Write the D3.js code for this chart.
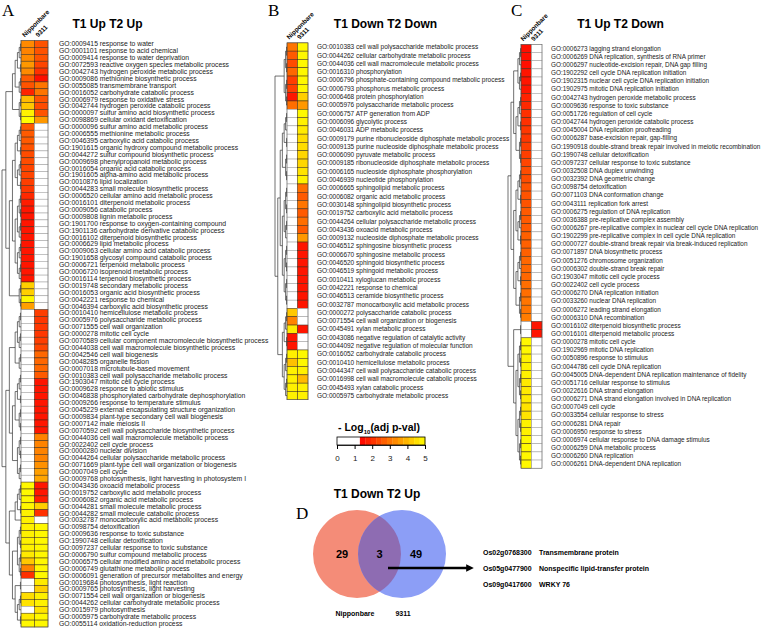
<!DOCTYPE html>
<html><head><meta charset="utf-8">
<script src="https://cdn.jsdelivr.net/npm/d3@7"></script>
<style>body{margin:0;background:#fff}svg{display:block}</style>
</head><body><svg id="c" width="777" height="631"></svg>
<script>
// ---------------- DATA ----------------
const samples = ["Nipponbare", "9311"];

const termsA = ["GO:0009415 response to water","GO:0001101 response to acid chemical","GO:0009414 response to water deprivation","GO:0072593 reactive oxygen species metabolic process","GO:0042743 hydrogen peroxide metabolic process","GO:0009086 methionine biosynthetic process","GO:0055085 transmembrane transport","GO:0016052 carbohydrate catabolic process","GO:0006979 response to oxidative stress","GO:0042744 hydrogen peroxide catabolic process","GO:0000097 sulfur amino acid biosynthetic process","GO:0098869 cellular oxidant detoxification","GO:0000096 sulfur amino acid metabolic process","GO:0006555 methionine metabolic process","GO:0046395 carboxylic acid catabolic process","GO:1901615 organic hydroxy compound metabolic process","GO:0044272 sulfur compound biosynthetic process","GO:0009698 phenylpropanoid metabolic process","GO:0016054 organic acid catabolic process","GO:1901605 alpha-amino acid metabolic process","GO:0010876 lipid localization","GO:0044283 small molecule biosynthetic process","GO:0006520 cellular amino acid metabolic process","GO:0016101 diterpenoid metabolic process","GO:0009056 catabolic process","GO:0009808 lignin metabolic process","GO:1901700 response to oxygen-containing compound","GO:1901136 carbohydrate derivative catabolic process","GO:0016102 diterpenoid biosynthetic process","GO:0006629 lipid metabolic process","GO:0009063 cellular amino acid catabolic process","GO:1901658 glycosyl compound catabolic process","GO:0006721 terpenoid metabolic process","GO:0006720 isoprenoid metabolic process","GO:0016114 terpenoid biosynthetic process","GO:0019748 secondary metabolic process","GO:0016053 organic acid biosynthetic process","GO:0042221 response to chemical","GO:0046394 carboxylic acid biosynthetic process","GO:0010410 hemicellulose metabolic process","GO:0005976 polysaccharide metabolic process","GO:0071555 cell wall organization","GO:0000278 mitotic cell cycle","GO:0070589 cellular component macromolecule biosynthetic process","GO:0044038 cell wall macromolecule biosynthetic process","GO:0042546 cell wall biogenesis","GO:0048285 organelle fission","GO:0007018 microtubule-based movement","GO:0010383 cell wall polysaccharide metabolic process","GO:1903047 mitotic cell cycle process","GO:0009628 response to abiotic stimulus","GO:0046838 phosphorylated carbohydrate dephosphorylation","GO:0009266 response to temperature stimulus","GO:0045229 external encapsulating structure organization","GO:0009834 plant-type secondary cell wall biogenesis","GO:0007142 male meiosis II","GO:0070592 cell wall polysaccharide biosynthetic process","GO:0044036 cell wall macromolecule metabolic process","GO:0022402 cell cycle process","GO:0000280 nuclear division","GO:0044264 cellular polysaccharide metabolic process","GO:0071669 plant-type cell wall organization or biogenesis","GO:0007049 cell cycle","GO:0009768 photosynthesis, light harvesting in photosystem I","GO:0043436 oxoacid metabolic process","GO:0019752 carboxylic acid metabolic process","GO:0006082 organic acid metabolic process","GO:0044281 small molecule metabolic process","GO:0044282 small molecule catabolic process","GO:0032787 monocarboxylic acid metabolic process","GO:0098754 detoxification","GO:0009636 response to toxic substance","GO:1990748 cellular detoxification","GO:0097237 cellular response to toxic substance","GO:0006790 sulfur compound metabolic process","GO:0006575 cellular modified amino acid metabolic process","GO:0006749 glutathione metabolic process","GO:0006091 generation of precursor metabolites and energy","GO:0019684 photosynthesis, light reaction","GO:0009765 photosynthesis, light harvesting","GO:0071554 cell wall organization or biogenesis","GO:0044262 cellular carbohydrate metabolic process","GO:0015979 photosynthesis","GO:0005975 carbohydrate metabolic process","GO:0055114 oxidation-reduction process"];
const nipA = [3.3,3.2,3.3,3.5,3.3,2.6,2.5,1.8,4.0,4.2,4.8,5.0, 2.6,2.6,2.6,2.5, 2.4,2.4,2.3,2.3,2.2,2.1, 1.9,1.7,1.6,1.6,1.6,1.6,1.6,1.6,1.6,1.6,1.6,1.6,1.6, 4.3,4.3,4.9,3.6, 0,0,0,0,0,0,0,0,0,0,0,0,0,0,0,0,0,0,0,0,0,0,0,0,0, 4.9,4.9,4.9,4.9,4.8, 4.8, 4.8,4.8,4.8,4.8,4.7, 4.2,3.2,2.0, 0,0, 4.5,4.6,0,4.7,4.9];
const rice9311A = [2.5,2.5,2.5,2.3,2.0,1.5,3.0,3.0,2.5,2.4,2.5,3.5, 0,0,0,0,0,0,0,0,0,0,0,0,0,0,0,0,0,0,0,0,0,0,0,0,0,0,0, 2.2,2.1,2.1,2.1,2.2,2.3, 2.8,2.8,2.8, 2.6,1.6,1.6,1.6,1.6,1.6,1.6,1.6,1.6, 3.2,3.2,3.2,3.2,3.4,3.6,3.7, 1.6,1.6,1.7,4.3,2.0, 0, 4.9,4.9,4.9,4.9,4.9, 4.9,4.9,4.9, 4.7,4.3, 4.8,4.8,4.6,4.9,4.9];
const dendroA = [[[["0-4","5-7"],"8-11"],[["12-21","22-34"],"35-38"]],[[["39-44","45-47"],["48-56","57-63"]],[["64-68",69],["70-77",["78-79","80-84"]]]]];

const termsB = ["GO:0010383 cell wall polysaccharide metabolic process","GO:0044262 cellular carbohydrate metabolic process","GO:0044036 cell wall macromolecule metabolic process","GO:0016310 phosphorylation","GO:0006796 phosphate-containing compound metabolic process","GO:0006793 phosphorus metabolic process","GO:0006468 protein phosphorylation","GO:0005976 polysaccharide metabolic process","GO:0006757 ATP generation from ADP","GO:0006096 glycolytic process","GO:0046031 ADP metabolic process","GO:0009179 purine ribonucleoside diphosphate metabolic process","GO:0009135 purine nucleoside diphosphate metabolic process","GO:0006090 pyruvate metabolic process","GO:0009185 ribonucleoside diphosphate metabolic process","GO:0006165 nucleoside diphosphate phosphorylation","GO:0046939 nucleotide phosphorylation","GO:0006665 sphingolipid metabolic process","GO:0006082 organic acid metabolic process","GO:0030148 sphingolipid biosynthetic process","GO:0019752 carboxylic acid metabolic process","GO:0044264 cellular polysaccharide metabolic process","GO:0043436 oxoacid metabolic process","GO:0009132 nucleoside diphosphate metabolic process","GO:0046512 sphingosine biosynthetic process","GO:0006670 sphingosine metabolic process","GO:0046520 sphingoid biosynthetic process","GO:0046519 sphingoid metabolic process","GO:0010411 xyloglucan metabolic process","GO:0042221 response to chemical","GO:0046513 ceramide biosynthetic process","GO:0032787 monocarboxylic acid metabolic process","GO:0000272 polysaccharide catabolic process","GO:0071554 cell wall organization or biogenesis","GO:0045491 xylan metabolic process","GO:0043086 negative regulation of catalytic activity","GO:0044092 negative regulation of molecular function","GO:0016052 carbohydrate catabolic process","GO:0010410 hemicellulose metabolic process","GO:0044347 cell wall polysaccharide catabolic process","GO:0016998 cell wall macromolecule catabolic process","GO:0045493 xylan catabolic process","GO:0005975 carbohydrate metabolic process"];
const nipB = [3.0,2.6,2.4,2.8,2.2,2.2,1.6,2.9, 0,0,0,0,0,0,0,0,0,0,0,0,0,0,0,0,0,0,0,0,0,0,0,0, 4.2,3.2,4.7,1.6,1.6,4.8,4.1,4.8,4.8,4.8,4.8];
const rice9311B = [4.9,4.9,4.9,4.9,4.9,4.9,4.3,3.5, 4.9,4.8,4.7,4.5,4.5,4.4,4.4,4.6,4.8, 2.9,2.6,3.0,2.6,2.9,2.6,3.5, 1.6,1.6,1.6,1.6,1.6,1.6,1.6,1.6, 0,0,1.6,0,0, 4.9,4.9,4.8,4.0,4.8,4.8];
const dendroB = [["0-3","4-7"],[["8-16",["17-23","24-31"]],[[["32-33",34],"35-36"],"37-42"]]];

const termsC = ["GO:0006273 lagging strand elongation","GO:0006269 DNA replication, synthesis of RNA primer","GO:0006297 nucleotide-excision repair, DNA gap filling","GO:1902292 cell cycle DNA replication initiation","GO:1902315 nuclear cell cycle DNA replication initiation","GO:1902975 mitotic DNA replication initiation","GO:0042743 hydrogen peroxide metabolic process","GO:0009636 response to toxic substance","GO:0051726 regulation of cell cycle","GO:0042744 hydrogen peroxide catabolic process","GO:0045004 DNA replication proofreading","GO:0006287 base-excision repair, gap-filling","GO:1990918 double-strand break repair involved in meiotic recombination","GO:1990748 cellular detoxification","GO:0097237 cellular response to toxic substance","GO:0032508 DNA duplex unwinding","GO:0032392 DNA geometric change","GO:0098754 detoxification","GO:0071103 DNA conformation change","GO:0043111 replication fork arrest","GO:0006275 regulation of DNA replication","GO:0036388 pre-replicative complex assembly","GO:0006267 pre-replicative complex in nuclear cell cycle DNA replication","GO:1902299 pre-replicative complex in cell cycle DNA replication","GO:0000727 double-strand break repair via break-induced replication","GO:0071897 DNA biosynthetic process","GO:0051276 chromosome organization","GO:0006302 double-strand break repair","GO:1903047 mitotic cell cycle process","GO:0022402 cell cycle process","GO:0006270 DNA replication initiation","GO:0033260 nuclear DNA replication","GO:0006272 leading strand elongation","GO:0006310 DNA recombination","GO:0016102 diterpenoid biosynthetic process","GO:0016101 diterpenoid metabolic process","GO:0000278 mitotic cell cycle","GO:1902969 mitotic DNA replication","GO:0050896 response to stimulus","GO:0044786 cell cycle DNA replication","GO:0045005 DNA-dependent DNA replication maintenance of fidelity","GO:0051716 cellular response to stimulus","GO:0022616 DNA strand elongation","GO:0006271 DNA strand elongation involved in DNA replication","GO:0007049 cell cycle","GO:0033554 cellular response to stress","GO:0006281 DNA repair","GO:0006950 response to stress","GO:0006974 cellular response to DNA damage stimulus","GO:0006259 DNA metabolic process","GO:0006260 DNA replication","GO:0006261 DNA-dependent DNA replication"];
const nipC = [1.5,1.5,1.5,1.6,1.6,1.6, 1.8,1.9,2.0,2.0,2.1,2.1,2.2,2.2,2.3, 2.4,2.4,2.5,2.5,2.5,2.6,2.6,2.6,2.7,2.7,2.7,2.8,2.8,2.8,2.9,2.9,3.0,3.0,3.1, 0,0, 4.9,4.9,4.8,4.8,4.8,4.7,4.7,4.7,4.6,4.6,4.8,4.8,4.9,4.9,4.9,4.9];
const rice9311C = [0,0,0,0,0,0,0,0,0,0,0,0,0,0,0,0,0,0,0,0,0,0,0,0,0,0,0,0,0,0,0,0,0,0, 1.6,1.6, 0,0,0,0,0,0,0,0,0,0,0,0,0,0,0,0];
const dendroC = [[["0-5","6-14"],["15-24","25-33"]],["34-35",["36-43","44-51"]]];

const legendTicks = [0,1,2,3,4,5];
const sigCut = 1.3;

const vennTitle = "T1 Down T2 Up";
const vennSets = ["Nipponbare", "9311"];
const vennCounts = [29, 3, 49];
const geneIds = ["Os02g0768300", "Os05g0477900", "Os09g0417600"];
const geneNames = ["Transmembrane protein", "Nonspecific lipid-transfer protein", "WRKY 76"];

// ---------------- DRAWING ----------------
const SANS = "'Liberation Sans', Arial, Helvetica, sans-serif";
const SERIF = "'Liberation Serif', 'Times New Roman', serif";
const svg = d3.select("#c");

const heat = d3.scaleLinear().domain([sigCut, 5]).range(["#ff0000", "#ffff00"]).clamp(true);
const colorOf = v => (v < sigCut ? "#ffffff" : heat(v));

function rangeTree(a, b) {
  if (a === b) return { leaf: a, h: 0 };
  const m = Math.floor((a + b) / 2);
  const l = rangeTree(a, m), r = rangeTree(m + 1, b);
  return { children: [l, r], h: Math.max(l.h, r.h) + 1 };
}
function buildTree(spec) {
  if (typeof spec === "number") return { leaf: spec, h: 0 };
  if (typeof spec === "string") { const [a, b] = spec.split("-").map(Number); return rangeTree(a, b); }
  const children = spec.map(buildTree);
  return { children, h: d3.max(children, c => c.h) + 1 };
}

const panels = [
  { letter: "A", lx: 2, title: "T1 Up T2 Up", tx: 107.5, terms: termsA, vals: [nipA, rice9311A], dendro: dendroA,
    hx: 21, cw: 13.5, top: 40.5, rh: 6.9, textX: 59, fs: 6.8, droot: 2 },
  { letter: "B", lx: 268, title: "T1 Down T2 Down", tx: 385.5, terms: termsB, vals: [nipB, rice9311B], dendro: dendroB,
    hx: 287, cw: 10.5, top: 42.85, rh: 8.3, textX: 317, fs: 6.5, droot: 275 },
  { letter: "C", lx: 511, title: "T1 Up T2 Down", tx: 620.5, terms: termsC, vals: [nipC, rice9311C], dendro: dendroC,
    hx: 521, cw: 10.5, top: 44.4, rh: 8.15, textX: 551, fs: 6.4, droot: 508 }
];

panels.forEach(p => {
  const g = svg.append("g");
  const n = p.terms.length;
  const y = d3.scaleBand().domain(d3.range(n)).range([p.top, p.top + n * p.rh]);
  const x = d3.scaleBand().domain(samples).range([p.hx, p.hx + 2 * p.cw]);

  g.append("text").attr("x", p.lx).attr("y", 16).attr("font-family", SERIF).attr("font-size", 17).text(p.letter);
  g.append("text").attr("x", p.tx).attr("y", 28).attr("text-anchor", "middle").attr("font-family", SANS)
    .attr("font-weight", "bold").attr("font-size", 12).text(p.title);

  // column labels
  samples.forEach(s => {
    const cx = x(s) + x.bandwidth() / 2 - 3, cy = p.top - 3;
    g.append("text").attr("transform", `translate(${cx},${cy}) rotate(-45)`).attr("font-family", SANS)
      .attr("font-weight", "bold").attr("font-size", 6.4).text(s);
  });

  // cells
  samples.forEach((s, j) => {
    g.append("g").selectAll("rect").data(p.vals[j]).join("rect")
      .attr("x", x(s)).attr("y", (d, i) => y(i)).attr("width", x.bandwidth()).attr("height", y.bandwidth())
      .attr("fill", d => colorOf(d))
      .attr("stroke", d => (d < sigCut ? "#9a9a9a" : "#3a2a1a")).attr("stroke-width", 0.5);
  });
  g.append("rect").attr("x", p.hx).attr("y", p.top).attr("width", 2 * p.cw).attr("height", n * p.rh)
    .attr("fill", "none").attr("stroke", "#666").attr("stroke-width", 0.5);

  // labels
  g.append("g").selectAll("text").data(p.terms).join("text")
    .attr("x", p.textX).attr("y", (d, i) => y(i) + y.bandwidth() / 2).attr("dy", "0.35em")
    .attr("font-family", SANS).attr("font-size", p.fs).attr("fill", "#222").text(d => d);

  // dendrogram
  const root = d3.hierarchy(buildTree(p.dendro));
  const H = root.data.h;
  const dx = d3.scalePow().exponent(1.7).domain([0, H]).range([p.hx, p.droot]);
  root.eachAfter(nd => {
    if (!nd.children) nd.yy = y(nd.data.leaf) + y.bandwidth() / 2;
    else nd.yy = (nd.children[0].yy + nd.children[nd.children.length - 1].yy) / 2;
    nd.xx = dx(nd.data.h);
  });
  const dg = g.append("g").attr("stroke", "#333").attr("stroke-width", 0.7).attr("fill", "none");
  root.each(nd => {
    if (!nd.children) return;
    const c0 = nd.children[0], c1 = nd.children[nd.children.length - 1];
    dg.append("line").attr("x1", nd.xx).attr("x2", nd.xx).attr("y1", c0.yy).attr("y2", c1.yy);
    nd.children.forEach(c => dg.append("line").attr("x1", nd.xx).attr("x2", c.xx).attr("y1", c.yy).attr("y2", c.yy));
  });
});

// ---------------- LEGEND ----------------
const lg = svg.append("g");
const lx = d3.scaleLinear().domain([0, 5]).range([337, 425]);
const lt = lg.append("text").attr("x", 379).attr("y", 431).attr("text-anchor", "middle")
  .attr("font-family", SANS).attr("font-weight", "bold").attr("font-size", 10.5);
lt.append("tspan").text("- Log");
lt.append("tspan").attr("font-size", 6).attr("dy", 2.5).text("10");
lt.append("tspan").attr("dy", -2.5).text("(adj p-val)");
const steps = d3.range(sigCut, 5, (5 - sigCut) / 12);
lg.append("rect").attr("x", lx(0)).attr("y", 437).attr("width", lx(sigCut) - lx(0)).attr("height", 8).attr("fill", "#fff");
lg.selectAll("rect.s").data(steps).join("rect").attr("class", "s")
  .attr("x", d => lx(d)).attr("y", 437).attr("width", lx((5 - sigCut) / 12) - lx(0) + 0.3).attr("height", 8)
  .attr("fill", d => heat(d + (5 - sigCut) / 24));
lg.append("rect").attr("x", lx(0)).attr("y", 437).attr("width", lx(5) - lx(0)).attr("height", 8)
  .attr("fill", "none").attr("stroke", "#000").attr("stroke-width", 0.8);
const ax = lg.append("g").attr("transform", "translate(0,445)")
  .call(d3.axisBottom(lx).tickValues(legendTicks).tickSize(4).tickPadding(6).tickFormat(d3.format("d")));
ax.select(".domain").attr("stroke", "#000").attr("stroke-width", 0.8);
ax.selectAll("text").attr("font-family", SANS).attr("font-size", 8).attr("fill", "#222");

// ---------------- VENN (D) ----------------
const vg = svg.append("g");
vg.append("text").attr("x", 296).attr("y", 519).attr("font-family", SERIF).attr("font-size", 17).text("D");
vg.append("text").attr("x", 377).attr("y", 498).attr("text-anchor", "middle").attr("font-family", SANS)
  .attr("font-weight", "bold").attr("font-size", 12).text(vennTitle);
const r = 44, cy = 554;
const cxs = [357, 402];
const defs = svg.append("defs");
defs.append("clipPath").attr("id", "clipL").append("circle").attr("cx", cxs[0]).attr("cy", cy).attr("r", r);
vg.append("circle").attr("cx", cxs[0]).attr("cy", cy).attr("r", r).attr("fill", "#f48c78");
vg.append("circle").attr("cx", cxs[1]).attr("cy", cy).attr("r", r).attr("fill", "#8c9ef6");
vg.append("circle").attr("cx", cxs[1]).attr("cy", cy).attr("r", r).attr("fill", "#8e6cb2").attr("clip-path", "url(#clipL)");
const numX = [342, 379.5, 416];
vennCounts.forEach((c, i) => vg.append("text").attr("x", numX[i]).attr("y", cy + 4).attr("text-anchor", "middle")
  .attr("font-family", SANS).attr("font-weight", "bold").attr("font-size", 11).text(c));
vennSets.forEach((s, i) => vg.append("text").attr("x", i === 0 ? 355 : 403).attr("y", 616).attr("text-anchor", "middle")
  .attr("font-family", SANS).attr("font-weight", "bold").attr("font-size", 7).text(s));
defs.append("marker").attr("id", "ah").attr("viewBox", "0 0 10 10").attr("refX", 5).attr("refY", 5)
  .attr("markerWidth", 3.2).attr("markerHeight", 3.2).attr("orient", "auto")
  .append("path").attr("d", "M0,0 L10,5 L0,10 z").attr("fill", "#000");
vg.append("line").attr("x1", 388).attr("x2", 470).attr("y1", 568).attr("y2", 568)
  .attr("stroke", "#000").attr("stroke-width", 2.4).attr("marker-end", "url(#ah)");
const gy = d3.scaleBand().domain(geneIds).range([545, 592]);
geneIds.forEach((id, i) => {
  const yy = gy(id) + gy.bandwidth() / 2 + 2.5;
  vg.append("text").attr("x", 483).attr("y", yy).attr("font-family", SANS).attr("font-weight", "bold").attr("font-size", 7).text(id);
  vg.append("text").attr("x", 539).attr("y", yy).attr("font-family", SANS).attr("font-weight", "bold").attr("font-size", 7).text(geneNames[i]);
});
</script></body></html>
